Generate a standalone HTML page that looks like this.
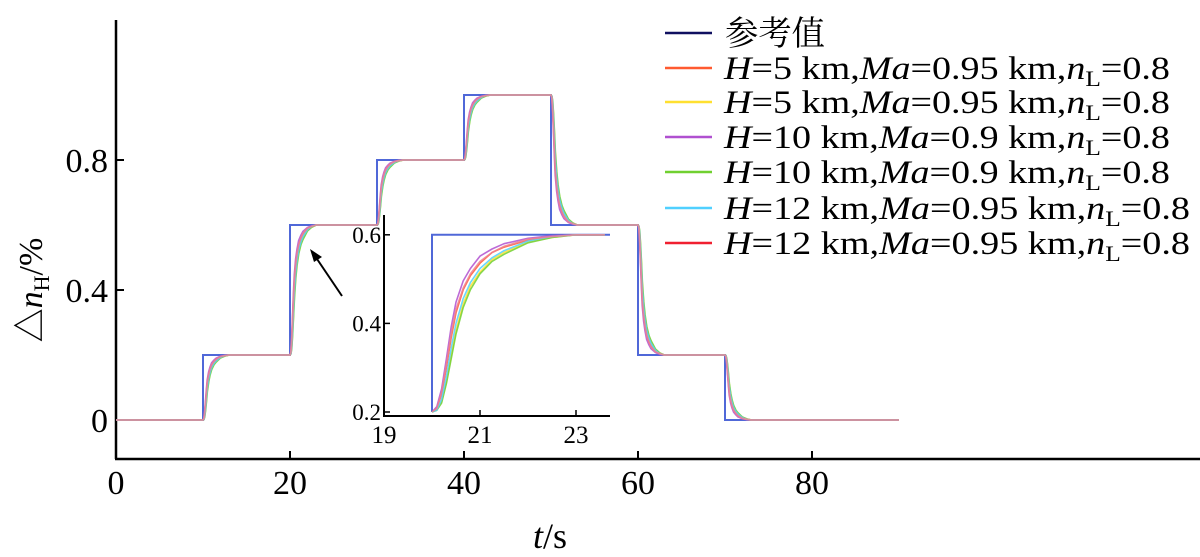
<!DOCTYPE html>
<html><head><meta charset="utf-8">
<style>
html,body{margin:0;padding:0;background:#fff;}
svg{display:block;font-family:"Liberation Serif","Noto Serif CJK SC",serif;}
</style></head>
<body>
<svg id="chart" width="1200" height="557" viewBox="0 0 1200 557" xmlns="http://www.w3.org/2000/svg">
<g id="main-axes"></g>
<g id="main-plot"></g>
<g id="inset"></g>
<g id="legend"></g>
<line x1="342" y1="296" x2="315" y2="256" stroke="#000" stroke-width="2"/>
<polygon points="310,249 322,257 314,262" fill="#000"/>
<text transform="translate(42,290) rotate(-90)" text-anchor="middle" font-size="34">△<tspan font-style="italic">n</tspan><tspan font-size="22" dy="7">H</tspan><tspan dy="-7">/%</tspan></text>
<text x="550" y="548" text-anchor="middle" font-size="36"><tspan font-style="italic">t</tspan>/s</text>
</svg>
<script>
// reference step schedule
const stepTimes = [0, 10, 20, 30, 40, 50, 60, 70];
const stepLevels = [0, 0.2, 0.6, 0.8, 1.0, 0.6, 0.2, 0];
const endTime = 90;
// normalized step response samples (fraction of step) at these delays after each step
const respTimes = [0, 0.1, 0.2, 0.3, 0.4, 0.5, 0.65, 0.8, 1.0, 1.25, 1.5, 2.0, 2.5, 3.0, 4.0];
const respOrange = [0, 0.02, 0.10, 0.25, 0.42, 0.56, 0.69, 0.77, 0.84, 0.90, 0.93, 0.97, 0.99, 1.0, 1.0];
const respYellow = [0, 0.01, 0.06, 0.17, 0.32, 0.46, 0.61, 0.71, 0.79, 0.86, 0.90, 0.96, 0.985, 1.0, 1.0];
const respPurple = [0, 0.03, 0.13, 0.30, 0.48, 0.62, 0.74, 0.81, 0.88, 0.92, 0.95, 0.98, 0.995, 1.0, 1.0];
const respGreen = [0, 0.01, 0.05, 0.16, 0.30, 0.44, 0.59, 0.69, 0.78, 0.85, 0.89, 0.955, 0.985, 1.0, 1.0];
const respCyan = [0, 0.01, 0.07, 0.20, 0.36, 0.50, 0.64, 0.73, 0.81, 0.87, 0.91, 0.965, 0.99, 1.0, 1.0];
const respRed = [0, 0.02, 0.11, 0.27, 0.44, 0.58, 0.70, 0.78, 0.85, 0.90, 0.935, 0.975, 0.99, 1.0, 1.0];
const seriesNames = ["H=5 km, Ma=0.95 (a)","H=5 km, Ma=0.95 (b)","H=10 km, Ma=0.9 (a)","H=10 km, Ma=0.9 (b)","H=12 km, Ma=0.95 (a)","H=12 km, Ma=0.95 (b)"];
const seriesColors = ["#ff5a30","#ffe030","#b050d0","#70d030","#50d0ff","#f08090"];
const seriesResp = [respOrange, respYellow, respPurple, respGreen, respCyan, respRed];
const xTicks = [0, 20, 40, 60, 80];
const yTicks = [0, 0.4, 0.8];
const insetXTicks = [19, 21, 23];
const insetYTicks = [0.2, 0.4, 0.6];

const NS = "http://www.w3.org/2000/svg";
function mk(tag, attrs, parent){const e=document.createElementNS(NS,tag);for(const k in attrs)e.setAttribute(k,attrs[k]);parent.appendChild(e);return e;}

const X = t => 116 + t * 8.7;
const Y = v => 420 - v * 325;
const IX = t => 384 + (t - 19) * 48;
const IY = v => 412 - (v - 0.2) * 443;

function refPoints(){
  const pts=[];
  for(let i=0;i<stepTimes.length;i++){
    const tEnd = i+1<stepTimes.length ? stepTimes[i+1] : endTime;
    pts.push([stepTimes[i], stepLevels[i]]);
    pts.push([tEnd, stepLevels[i]]);
  }
  return pts;
}
function respPoints(resp){
  const pts=[[0,0]];
  for(let i=1;i<stepTimes.length;i++){
    const prev=stepLevels[i-1], lvl=stepLevels[i];
    for(let j=0;j<respTimes.length;j++){
      pts.push([stepTimes[i]+respTimes[j], prev+(lvl-prev)*resp[j]]);
    }
  }
  pts.push([endTime, stepLevels[stepLevels.length-1]]);
  return pts;
}
function pathD(pts, fx, fy, tmin, tmax){
  let d="";
  pts.forEach(p=>{ if(p[0]<tmin||p[0]>tmax) return; d += (d?"L":"M")+fx(p[0]).toFixed(1)+","+fy(p[1]).toFixed(1); });
  return d;
}

// main axes
const ax = document.getElementById("main-axes");
let l = mk("line",{x1:116,y1:20,x2:116,y2:459,stroke:"#000","stroke-width":2.5},ax);


l = mk("line",{x1:115,y1:459,x2:1200,y2:459,stroke:"#000","stroke-width":2.5},ax);


xTicks.forEach(t=>{
  if(t>0){const tk=mk("line",{x1:X(t),y1:459,x2:X(t),y2:451,stroke:"#000","stroke-width":2},ax);
  
  }
  const tx=mk("text",{x:X(t),y:494,"text-anchor":"middle","font-size":34},ax);
  
  
  tx.textContent=t;
});
yTicks.forEach(v=>{
  const tk=mk("line",{x1:116,y1:Y(v),x2:124,y2:Y(v),stroke:"#000","stroke-width":2},ax);
  
  
  const tx=mk("text",{x:108,y:Y(v)+12,"text-anchor":"end","font-size":34},ax);
  
  
  tx.textContent=v;
});

// main series
const mp=document.getElementById("main-plot");
let p=mk("path",{d:pathD(refPoints(),X,Y,0,endTime),fill:"none",stroke:"#5068d8","stroke-width":2},mp);


seriesResp.forEach((r,i)=>{
  const s=mk("path",{d:pathD(respPoints(r),X,Y,0,endTime),fill:"none",stroke:seriesColors[i],"stroke-width":1.8,"stroke-opacity":0.85},mp);
  
  
});

// inset
const ins=document.getElementById("inset");
const bg=mk("rect",{x:384,y:229,width:226,height:187,fill:"#fff"},ins);


const clip=mk("clipPath",{id:"inclip"},ins);
mk("rect",{x:384,y:200,width:226,height:216},clip);
const ig=mk("g",{"clip-path":"url(#inclip)"},ins);
p=mk("path",{d:pathD(refPoints(),IX,IY,18,30),fill:"none",stroke:"#5068d8","stroke-width":2},ig);


seriesResp.forEach((r,i)=>{
  const pts=respPoints(r).filter(q=>q[0]<=23.6);
  pts.push([23.6, stepLevels[2]]);
  const s=mk("path",{d:pathD(pts,IX,IY,18,23.6),fill:"none",stroke:seriesColors[i],"stroke-width":1.6,"stroke-opacity":0.85,"stroke-linejoin":"round"},ig);
  
  
});
l=mk("line",{x1:384,y1:215,x2:384,y2:417,stroke:"#000","stroke-width":2},ins);


l=mk("line",{x1:383,y1:416,x2:610,y2:416,stroke:"#000","stroke-width":2},ins);


insetXTicks.forEach(t=>{
  if(t>19){const tk=mk("line",{x1:IX(t),y1:416,x2:IX(t),y2:410,stroke:"#000","stroke-width":1.5},ins);
  
  }
  const tx=mk("text",{x:IX(t),y:443,"text-anchor":"middle","font-size":25},ins);
  
  
  tx.textContent=t;
});
insetYTicks.forEach(v=>{
  const tk=mk("line",{x1:384,y1:IY(v),x2:390,y2:IY(v),stroke:"#000","stroke-width":1.5},ins);
  
  
  const tx=mk("text",{x:381,y:IY(v)+8,"text-anchor":"end","font-size":23},ins);
  
  
  tx.textContent=v.toFixed(1);
});

// legend
const lg=document.getElementById("legend");
const legRows=[33,68,102,137,172,208,243];
const legLabels=[["5","0.95"],["5","0.95"],["10","0.9"],["10","0.9"],["12","0.95"],["12","0.95"]];
const legWidths=[446,446,446,446,466,466];
let ln=mk("line",{x1:665,y1:legRows[0],x2:712,y2:legRows[0],stroke:"#101060","stroke-width":2.5},lg);


let lt=mk("text",{x:725,y:legRows[0]+12,"font-size":34,textLength:100,lengthAdjust:"spacingAndGlyphs"},lg);


lt.textContent="参考值";
legLabels.forEach((lab,i)=>{
  const y=legRows[i+1];
  const sw=mk("line",{x1:665,y1:y,x2:712,y2:y,stroke:seriesColors[i]==="#f08090"?"#f02030":seriesColors[i],"stroke-width":2.5},lg);
  
  
  const t=mk("text",{x:724,y:y+11,"font-size":33,textLength:legWidths[i],lengthAdjust:"spacingAndGlyphs"},lg);
  
  
  t.innerHTML='<tspan font-style="italic">H</tspan>='+lab[0]+' km,<tspan font-style="italic">Ma</tspan>='+lab[1]+' km,<tspan font-style="italic">n</tspan><tspan font-size="22" dy="7">L</tspan><tspan dy="-7">=0.8</tspan>';
});
</script>
</body></html>
